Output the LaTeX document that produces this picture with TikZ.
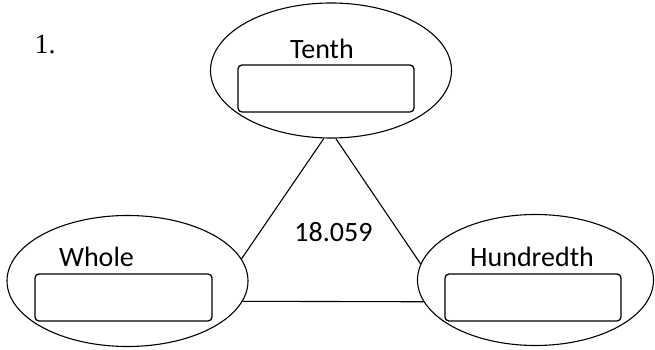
\documentclass[tikz,border=0pt]{standalone}
\usepackage{fontspec}
\setmainfont{Carlito}
\newfontfamily\numfont{Liberation Serif}
\usetikzlibrary{shapes.geometric}
\tikzset{
  oval/.style={draw, ellipse, line width=1.1pt, inner sep=0pt},
  answerbox/.style={draw, rounded corners=4pt, line width=1.3pt, inner sep=0pt, minimum width=176pt, minimum height=47pt},
  label/.style={anchor=base, inner sep=0pt, font=\fontsize{28}{34}\selectfont},
  link/.style={line width=1.1pt}
}
\begin{document}
\begin{tikzpicture}[x=1pt,y=1pt]
\useasboundingbox (0,0) rectangle (655,350);
\node[oval, minimum width=241pt, minimum height=135pt] (tenth) at (331,279.5) {};
\node[oval, minimum width=241pt, minimum height=131pt] (whole) at (127.5,69) {};
\node[oval, minimum width=236pt, minimum height=131pt] (hund) at (535.5,70) {};
\node[answerbox] (tbox) at (326,261.5) {};
\node[answerbox, minimum width=177pt] (wbox) at (123.5,52.5) {};
\node[answerbox] (hbox) at (533,52.5) {};
\node[label] (tl) at (322,291) {Tenth};
\node[label] (wl) at (96.5,83.3) {Whole};
\node[label] (hl) at (532,83.3) {Hundredth};
\node[label] (num) at (333.5,108.3) {18.059};
\node[anchor=base west, inner sep=0pt, font=\numfont\fontsize{28}{34}\selectfont] (q) at (34.5,296.7) {1.};
\draw[link] (tenth.264) -- (whole.11);
\draw[link] (tenth.274) -- (hund.172);
\draw[link] (whole.-10) -- (hund.191);
\end{tikzpicture}
\end{document}
